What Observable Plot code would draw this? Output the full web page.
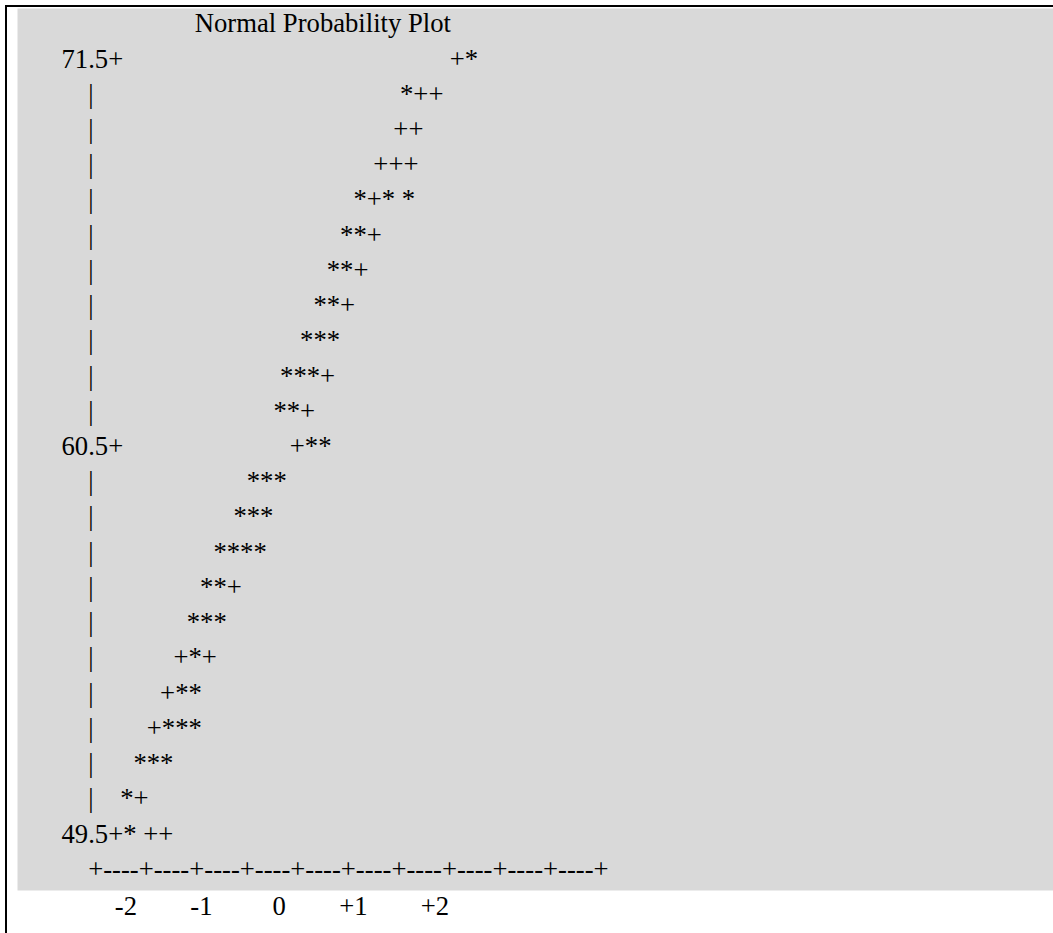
<!DOCTYPE html>
<html>
<head>
<meta charset="utf-8">
<script src="https://cdn.jsdelivr.net/npm/d3@7"></script>
<script src="https://cdn.jsdelivr.net/npm/@observablehq/plot@0.6"></script>
<style>
  html, body { margin: 0; padding: 0; background: #ffffff; }
  #wrap {
    position: absolute; left: 5px; top: 5px;
    width: 1046px; height: 926px;
    border-left: 2px solid #000; border-top: 2px solid #000;
  }
</style>
</head>
<body>
<div id="wrap"></div>
<script>
// ---- data ----
const title = "Normal Probability Plot";
const titleLead = 26;                                  // leading spaces of the title line
const yTickLabels = ["71.5", "60.5", "49.5"];
const yTickRows = [0, 11, 22];                         // plot rows that carry a tick label
// for each plot row (top to bottom): spaces after the axis character, then the plotted symbols
const pointLead = [49, 46, 45, 42, 39, 37, 35, 33, 31, 28, 27, 25, 23, 21, 18, 16, 14, 12, 10, 8, 6, 4, 0];
const pointGlyphs = ["+*", "*++", "++", "+++", "*+* *", "**+", "**+", "**+", "***", "***+", "**+", "+**",
                     "***", "***", "****", "**+", "***", "+*+", "+**", "+***", "***", "*+", "* ++"];
const xAxisSegments = 10;                              // "+----" repeated, then a closing "+"
const xTickLabels = ["-2", "-1", "0", "+1", "+2"];
const xTickGaps = [14, 8, 9, 8, 8];                    // spaces before each x tick label

// ---- build the text lines ----
const NB = "\u00a0";
const pad = n => NB.repeat(n);
const keep = s => s.replace(/ /g, NB);

const lines = [];
lines.push({row: -1, text: pad(titleLead) + title});
pointGlyphs.forEach((g, r) => {
  const k = yTickRows.indexOf(r);
  const prefix = k >= 0 ? pad(6) + yTickLabels[k] + "+" : pad(10) + "|";
  lines.push({row: r, text: prefix + pad(pointLead[r]) + keep(g)});
});
lines.push({row: pointGlyphs.length, text: pad(10) + "+----".repeat(xAxisSegments) + "+"});
const tickLine = [{row: pointGlyphs.length + 1,
  text: xTickLabels.map((t, i) => pad(xTickGaps[i]) + t).join("")}];

const font = {fontFamily: "'Liberation Serif', 'Times New Roman', serif", fontSize: 26.67, fill: "#000"};

const chart = Plot.plot({
  width: 1046,
  height: 926,
  marginLeft: 10,
  marginTop: 1,
  marginRight: 0,
  marginBottom: 43,
  style: {background: "transparent"},
  x: {axis: null},
  y: {axis: null, domain: [0, 22], range: [60, 835]},
  marks: [
    Plot.frame({fill: "#d9d9d9", stroke: "none"}),
    Plot.text(lines, {y: "row", text: "text", frameAnchor: "left", textAnchor: "start",
                      lineAnchor: "bottom", dx: 4, ...font}),
    Plot.text(tickLine, {y: "row", text: "text", frameAnchor: "left", textAnchor: "start",
                         lineAnchor: "bottom", dx: 4, dy: 2, ...font})
  ]
});
document.getElementById("wrap").appendChild(chart);
</script>
</body>
</html>
